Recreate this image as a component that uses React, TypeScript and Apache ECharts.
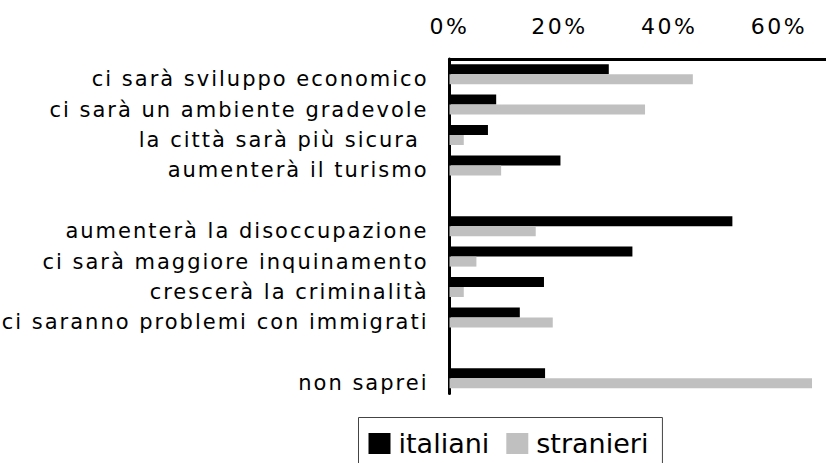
import React, { useEffect, useRef } from "react";
import * as echarts from "echarts";

const categories: string[] = [
  "ci sarà sviluppo economico",
  "ci sarà un ambiente gradevole",
  "la città sarà più sicura ",
  "aumenterà il turismo",
  "",
  "aumenterà la disoccupazione",
  "ci sarà maggiore inquinamento",
  "crescerà la criminalità",
  "ci saranno problemi con immigrati",
  " ",
  "non saprei",
];

const italiani: (number | null)[] = [29.0, 8.5, 7.0, 20.2, null, 51.5, 33.3, 17.2, 12.8, null, 17.4];
const stranieri: (number | null)[] = [44.3, 35.6, 2.6, 9.4, null, 15.7, 4.9, 2.6, 18.8, null, 66.0];

const seriesNames = ["italiani", "stranieri"];
const FONT = "DejaVu Sans";

export default function App() {
  const ref = useRef<HTMLDivElement>(null);

  useEffect(() => {
    if (!ref.current) return;
    const chart = echarts.init(ref.current, null, { renderer: "svg" });
    chart.setOption({
      animation: false,
      backgroundColor: "#ffffff",
      textStyle: { fontFamily: FONT },
      grid: { left: 449.5, right: 0, top: 59, bottom: 69.6 },
      legend: {
        data: seriesNames,
        left: 358.5,
        top: 417.5,
        orient: "horizontal",
        selectedMode: false,
        icon: "rect",
        itemWidth: 22,
        itemHeight: 21,
        itemGap: 17,
        padding: [10, 14, 10, 10],
        borderColor: "#444444",
        borderWidth: 1,
        textStyle: {
          fontFamily: FONT,
          fontSize: 27,
          lineHeight: 32,
          color: "#000000",
          padding: [0, 0, 0, 3],
        },
      },
      xAxis: {
        type: "value",
        position: "top",
        min: 0,
        max: 70,
        interval: 20,
        axisLine: { show: true, lineStyle: { color: "#000000", width: 3 } },
        axisTick: { show: false },
        splitLine: { show: false },
        axisLabel: {
          formatter: "{value}%",
          fontFamily: FONT,
          fontSize: 22,
          color: "#000000",
          margin: 22,
          showMaxLabel: false,
        },
      },
      yAxis: {
        type: "category",
        data: categories,
        inverse: true,
        axisLine: { show: true, lineStyle: { color: "#000000", width: 3 } },
        axisTick: { show: false },
        splitLine: { show: false },
        axisLabel: {
          fontFamily: FONT,
          fontSize: 21,
          color: "#000000",
          margin: 21,
          interval: 0,
          verticalAlign: "top",
          lineHeight: 10,
        },
      },
      series: [
        {
          name: seriesNames[0],
          type: "bar",
          data: italiani,
          barWidth: 10,
          barGap: "0%",
          itemStyle: { color: "#000000" },
        },
        {
          name: seriesNames[1],
          type: "bar",
          data: stranieri,
          barWidth: 10,
          barGap: "0%",
          itemStyle: { color: "#c0c0c0" },
        },
      ],
    });
    return () => chart.dispose();
  }, []);

  return (
    <>
      <style>{`
        html, body { margin: 0; padding: 0; overflow: hidden; }
        #chart-box text[text-anchor="end"] { letter-spacing: 2px; }
        #chart-box text[text-anchor="middle"] { letter-spacing: 2.5px; }
      `}</style>
      <div style={{ width: 826, height: 463, overflow: "hidden" }}>
        <div id="chart-box" ref={ref} style={{ width: 834, height: 463 }} />
      </div>
    </>
  );
}
